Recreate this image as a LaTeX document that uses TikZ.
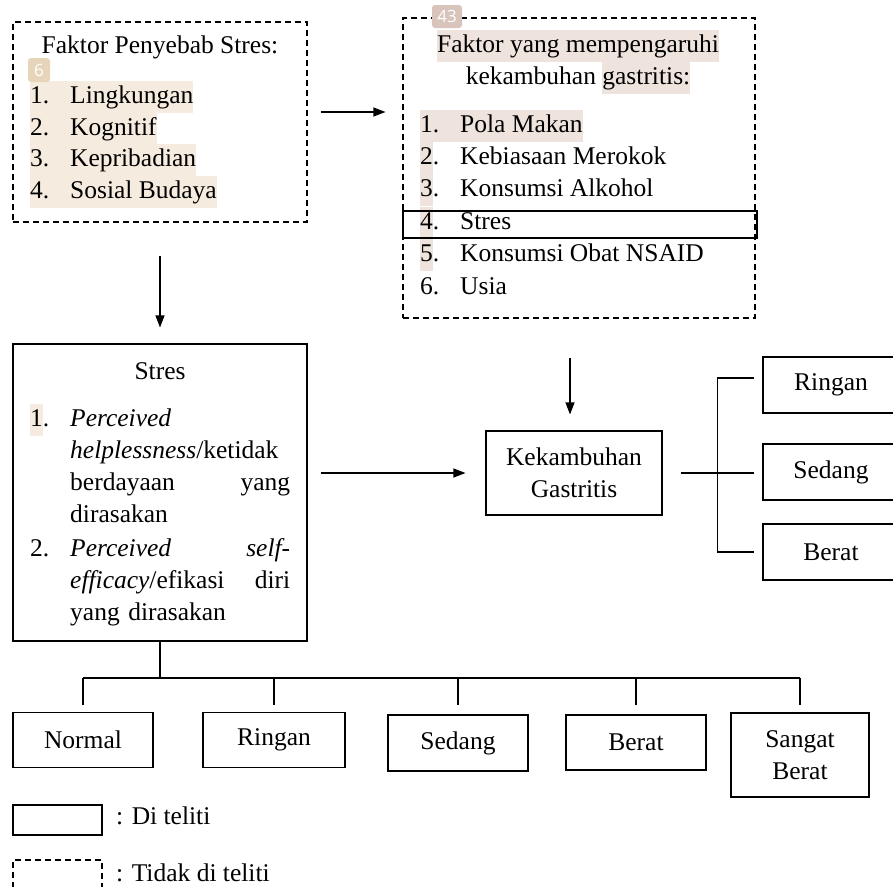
\documentclass[tikz,border=0pt]{standalone}
\usepackage{fontspec}
\setmainfont{Liberation Serif}
\newfontfamily\annotfont{Open Sans}
\usepackage{tikz}
\usetikzlibrary{positioning,calc,arrows.meta}
\definecolor{hlbeige}{RGB}{245,236,223}
\definecolor{hlpink}{RGB}{238,227,221}
\definecolor{markbeige}{RGB}{230,213,186}
\definecolor{markpink}{RGB}{216,196,186}
\newcommand{\hlb}[1]{{\setlength{\fboxsep}{0pt}\colorbox{hlbeige}{\strut#1}}}
\newcommand{\hlp}[1]{{\setlength{\fboxsep}{0pt}\colorbox{hlpink}{\strut#1}}}
\newcommand{\spreadline}[2]{\leavevmode\hbox to 220pt{#1\hfill #2}}

\begin{document}
\begin{tikzpicture}[
    x=1pt, y=-1pt,
    font=\fontsize{25.5}{32}\selectfont,
    sbox/.style={rectangle, draw, line width=1.1pt, inner sep=0pt, align=center},
    dbox/.style={sbox, dash pattern=on 6pt off 4pt},
    txt/.style={inner sep=0pt, align=center},
    item/.style={inner sep=0pt, anchor=west, execute at begin node=\strut, execute at end node=\strut},
    annot/.style={rectangle, rounded corners=3pt, text=white, font=\annotfont\fontsize{17}{17}\selectfont, minimum width=22pt, minimum height=24pt, inner sep=1pt},
    arr/.style={-{Triangle[length=12pt,width=9pt]}, line width=1.1pt},
    ln/.style={line width=1.1pt}
]
    \useasboundingbox (0,0) rectangle (893,886);
    \clip (0,0) rectangle (893,886);

    % faktor penyebab stres
    \node[dbox, minimum width=294pt, minimum height=200pt] (penyebab) at (160,122) {};
    \node[txt] (penyebabjdl) at (160,47) {Faktor Penyebab Stres:};
    \node[item] (p1) at (30,97) {\hlb{\makebox[40pt][l]{1.}Lingkungan}};
    \node[item] (p2) at (30,129) {\hlb{\makebox[40pt][l]{2.}Kognitif}};
    \node[item] (p3) at (30,160) {\hlb{\makebox[40pt][l]{3.}Kepribadian}};
    \node[item] (p4) at (30,192) {\hlb{\makebox[40pt][l]{4.}Sosial Budaya}};
    \node[annot, fill=markbeige] (m6) at (39,70) {6};

    % faktor kekambuhan gastritis
    \node[dbox, minimum width=352pt, minimum height=300pt] (faktor) at (579,168) {};
    \node[txt] (faktorjdl) at (578,62) {\hlp{Faktor yang mempengaruhi}\\kekambuhan \hlp{gastritis:}};
    \node[item] (f1) at (420,126) {\hlp{\makebox[40pt][l]{1.}Pola Makan}};
    \node[item] (f2) at (420,158) {\makebox[40pt][l]{\hlp{2}.}Kebiasaan Merokok};
    \node[item] (f3) at (420,190) {\makebox[40pt][l]{\hlp{3}.}Konsumsi Alkohol};
    \node[item] (f4) at (420,223) {\makebox[40pt][l]{\hlp{4}.}Stres};
    \node[item] (f5) at (420,255) {\makebox[40pt][l]{\hlp{5}.}Konsumsi Obat NSAID};
    \node[item] (f6) at (420,288) {\makebox[40pt][l]{6.}Usia};
    \node[sbox, minimum width=354pt, minimum height=27pt] (fstres) at (580,224.5) {};
    \node[annot, fill=markpink, minimum width=30pt, minimum height=23pt] (m43) at (447,16.5) {43};

    % stres
    \node[sbox, minimum width=294pt, minimum height=297pt] (stres) at (160,492.5) {};
    \node[txt] (stresjdl) at (160,371) {Stres};
    \node[item] (s1no) at (30,420) {\hlb{1}.};
    \node[item, text width=220pt, align=left] (s1) at (70,468) {\textit{Perceived}\\\textit{helplessness}/ketidak\\\spreadline{berdayaan}{yang}\\dirasakan};
    \node[item] (s2no) at (30,550) {2.};
    \node[item, text width=220pt, align=left] (s2) at (70,582) {\spreadline{\textit{Perceived}}{\textit{self-}}\\\spreadline{\textit{efficacy}/efikasi}{diri}\\yang dirasakan};

    % kekambuhan
    \node[sbox, minimum width=176pt, minimum height=84pt] (kambuh) at (574,473) {Kekambuhan\\Gastritis};
    \node[sbox, minimum width=136pt, minimum height=56pt] (kringan) at (831,385) {Ringan};
    \node[sbox, minimum width=136pt, minimum height=56pt] (ksedang) at (831,472) {Sedang};
    \node[sbox, minimum width=136pt, minimum height=56pt] (kberat) at (831,552) {Berat};

    % tingkat stres
    \node[sbox, minimum width=140pt, minimum height=55pt] (normal) at (83,740) {Normal};
    \node[sbox, minimum width=142pt, minimum height=55pt] (ringan) at (274,740) {Ringan};
    \node[sbox, minimum width=140pt, minimum height=56pt] (sedang) at (458,743) {Sedang};
    \node[sbox, minimum width=140pt, minimum height=55pt] (berat) at (636,742.5) {Berat};
    \node[sbox, minimum width=138pt, minimum height=84pt] (sangat) at (800,755) {Sangat\\Berat};

    % keterangan
    \node[sbox, minimum width=89pt, minimum height=30pt] (ldi) at (57.5,820) {};
    \node[dbox, minimum width=89pt, minimum height=30pt] (ltidak) at (57.5,875) {};
    \node[anchor=west, inner sep=0pt] (ldiket) at (116,816) {: Di teliti};
    \node[anchor=west, inner sep=0pt] (ltidakket) at (116,873) {: Tidak di teliti};

    \draw[arr, shorten <=13pt, shorten >=17pt] ([yshift=10pt]penyebab.east) -- ([yshift=10pt]penyebab.east -| faktor.west);
    \draw[arr, shorten <=33pt, shorten >=16pt] (penyebab.south) -- (stres.north);
    \draw[arr, shorten <=39pt, shorten >=16pt] ([xshift=-4pt]kambuh.north |- faktor.south) -- ([xshift=-4pt]kambuh.north);
    \draw[arr, shorten <=13pt, shorten >=20pt] (kambuh.west -| stres.east) -- (kambuh.west);
    \draw[ln, shorten <=18pt, shorten >=8pt] (kambuh.east) -- (kambuh.east -| ksedang.west);
    \draw[ln] ([shift={(-8pt,7pt)}]kringan.west) -| ([xshift=-45pt]kberat.west) -- ([xshift=-8pt]kberat.west);

    \coordinate (bus) at (160,678);
    \draw[ln] (stres.south) -- (bus);
    \draw[ln] (bus -| normal.north) -- (bus -| sangat.north);
    \foreach \n in {normal,ringan,sedang,berat,sangat}
        \draw[ln] (bus -| \n.north) -- ++(0,27);
\end{tikzpicture}
\end{document}
